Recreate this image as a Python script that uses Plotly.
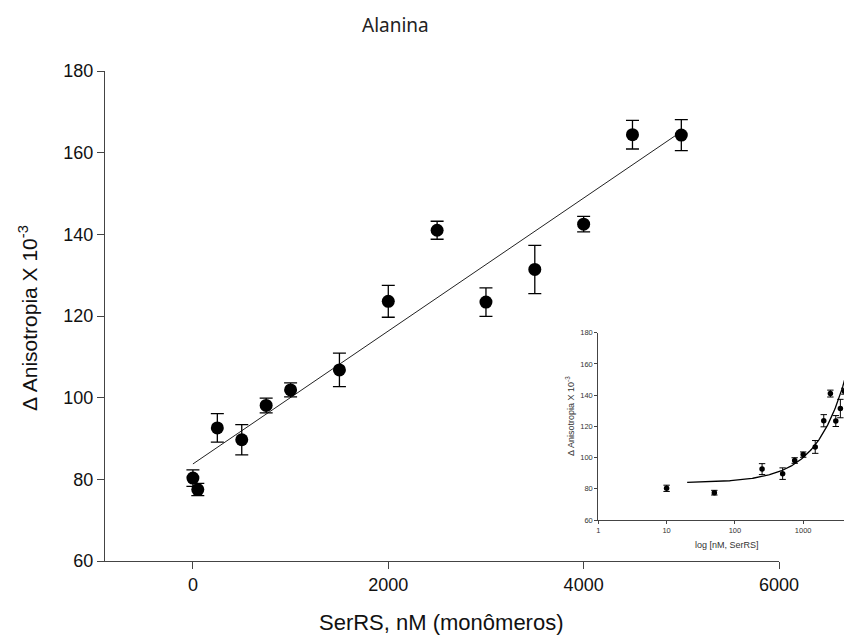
import numpy as np
import plotly.graph_objects as go

# ---- data ----
serrs_nm = [0, 50, 250, 500, 750, 1000, 1500, 2000, 2500, 3000, 3500, 4000, 4500, 5000]
anis = [80.3, 77.5, 92.6, 89.7, 98.1, 101.9, 106.8, 123.6, 141.0, 123.4, 131.4, 142.5, 164.4, 164.3]
anis_err = [2.0, 1.5, 3.5, 3.7, 1.8, 1.7, 4.1, 3.9, 2.2, 3.5, 5.9, 1.9, 3.5, 3.8]
# inset (log axis): the 0 nM point is plotted at 10 nM
inset_x = [10, 50, 250, 500, 750, 1000, 1500, 2000, 2500, 3000, 3500, 4000, 4500, 5000]

main_xticks = [0, 2000, 4000, 6000]
main_yticks = [60, 80, 100, 120, 140, 160, 180]
inset_xticks = [1, 10, 100, 1000]
inset_xticktext = ["1", "10", "100", "1000"]

# linear regression of the data (fit line)
slope, intercept = np.polyfit(serrs_nm, anis, 1)
fit_x = np.array([0, 5000])
fit_y = intercept + slope * fit_x
curve_x = np.logspace(np.log10(20), np.log10(10000), 200)
curve_y = intercept + slope * curve_x

W, H = 844, 639
ML, MR, MT, MB = 105, 0, 71, 78
PW, PH = W - ML - MR, H - MT - MB

def px(xp):
    return (xp - ML) / PW

def py(yp):
    return (H - MB - yp) / PH

ARIAL = "Liberation Sans, Arial, sans-serif"
AXC = "#444444"

fig = go.Figure()

# main plot
fig.add_trace(go.Scatter(
    x=fit_x, y=fit_y, mode="lines",
    line=dict(color="#222222", width=1), showlegend=False, hoverinfo="skip",
    xaxis="x", yaxis="y"))
fig.add_trace(go.Scatter(
    x=serrs_nm, y=anis, mode="markers",
    marker=dict(color="black", size=13),
    error_y=dict(type="data", array=anis_err, visible=True, color="black", thickness=1.3, width=6.5),
    showlegend=False, xaxis="x", yaxis="y"))

# inset
fig.add_trace(go.Scatter(
    x=curve_x, y=curve_y, mode="lines",
    line=dict(color="black", width=1.3), showlegend=False, hoverinfo="skip",
    xaxis="x2", yaxis="y2"))
fig.add_trace(go.Scatter(
    x=inset_x, y=anis, mode="markers",
    marker=dict(color="black", size=5.5),
    error_y=dict(type="data", array=anis_err, visible=True, color="black", thickness=1, width=3.2),
    showlegend=False, xaxis="x2", yaxis="y2"))

fig.update_layout(
    template="none",
    autosize=False,
    width=W, height=H,
    margin=dict(l=ML, r=MR, t=MT, b=MB, pad=0, autoexpand=False),
    paper_bgcolor="white", plot_bgcolor="white",
    font=dict(family=ARIAL, color="#111111"),
    xaxis=dict(
        domain=[0, px(779)], range=[-900, 6000], tickvals=main_xticks, automargin=False,
        showgrid=False, zeroline=False, showline=True, linecolor=AXC, linewidth=1.3,
        ticks="outside", ticklen=7, tickcolor=AXC, tickwidth=1.2,
        tickfont=dict(size=18, family=ARIAL, color="#111111"), anchor="y"),
    yaxis=dict(
        domain=[0, 1], range=[60, 180], tickvals=main_yticks, automargin=False,
        showgrid=False, zeroline=False, showline=True, linecolor=AXC, linewidth=1.3,
        ticks="outside", ticklen=7, tickcolor=AXC, tickwidth=1.2,
        tickfont=dict(size=18, family=ARIAL, color="#111111"), anchor="x"),
    xaxis2=dict(
        domain=[px(598.3), 1], type="log", range=[0, (W - 598.3) / 68.3],
        tickvals=inset_xticks, ticktext=inset_xticktext, automargin=False,
        showgrid=False, zeroline=False, showline=True, linecolor=AXC, linewidth=1,
        ticks="outside", ticklen=3, tickcolor=AXC,
        tickfont=dict(size=7.5, family=ARIAL, color="#333333"), anchor="y2"),
    yaxis2=dict(
        domain=[py(520), py(332.7)], range=[60, 180], tickvals=main_yticks, automargin=False,
        showgrid=False, zeroline=False, showline=True, linecolor=AXC, linewidth=1,
        ticks="outside", ticklen=3, tickcolor=AXC,
        tickfont=dict(size=7.5, family=ARIAL, color="#333333"), anchor="x2"),
    annotations=[
        dict(text="Alanina", xref="paper", yref="paper", x=px(395), y=py(25),
             xanchor="center", yanchor="middle", showarrow=False,
             font=dict(family="Noto Sans, sans-serif", size=19, color="#222222")),
        dict(text="SerRS, nM (monômeros)", xref="paper", yref="paper", x=px(441), y=py(622),
             xanchor="center", yanchor="middle", showarrow=False,
             font=dict(family=ARIAL, size=22, color="#111111")),
        dict(text="Δ Anisotropia X 10<sup>-3</sup>", xref="paper", yref="paper", x=px(28), y=py(318),
             xanchor="center", yanchor="middle", showarrow=False, textangle=-90,
             font=dict(family=ARIAL, size=21, color="#111111")),
        dict(text="log [nM, SerRS]", xref="paper", yref="paper", x=px(727), y=py(545),
             xanchor="center", yanchor="middle", showarrow=False,
             font=dict(family=ARIAL, size=9, color="#333333")),
        dict(text="Δ Anisotropia X 10<sup>-3</sup>", xref="paper", yref="paper", x=px(570), y=py(416),
             xanchor="center", yanchor="middle", showarrow=False, textangle=-90,
             font=dict(family=ARIAL, size=9, color="#333333")),
    ],
)

fig.write_html("out.html")
